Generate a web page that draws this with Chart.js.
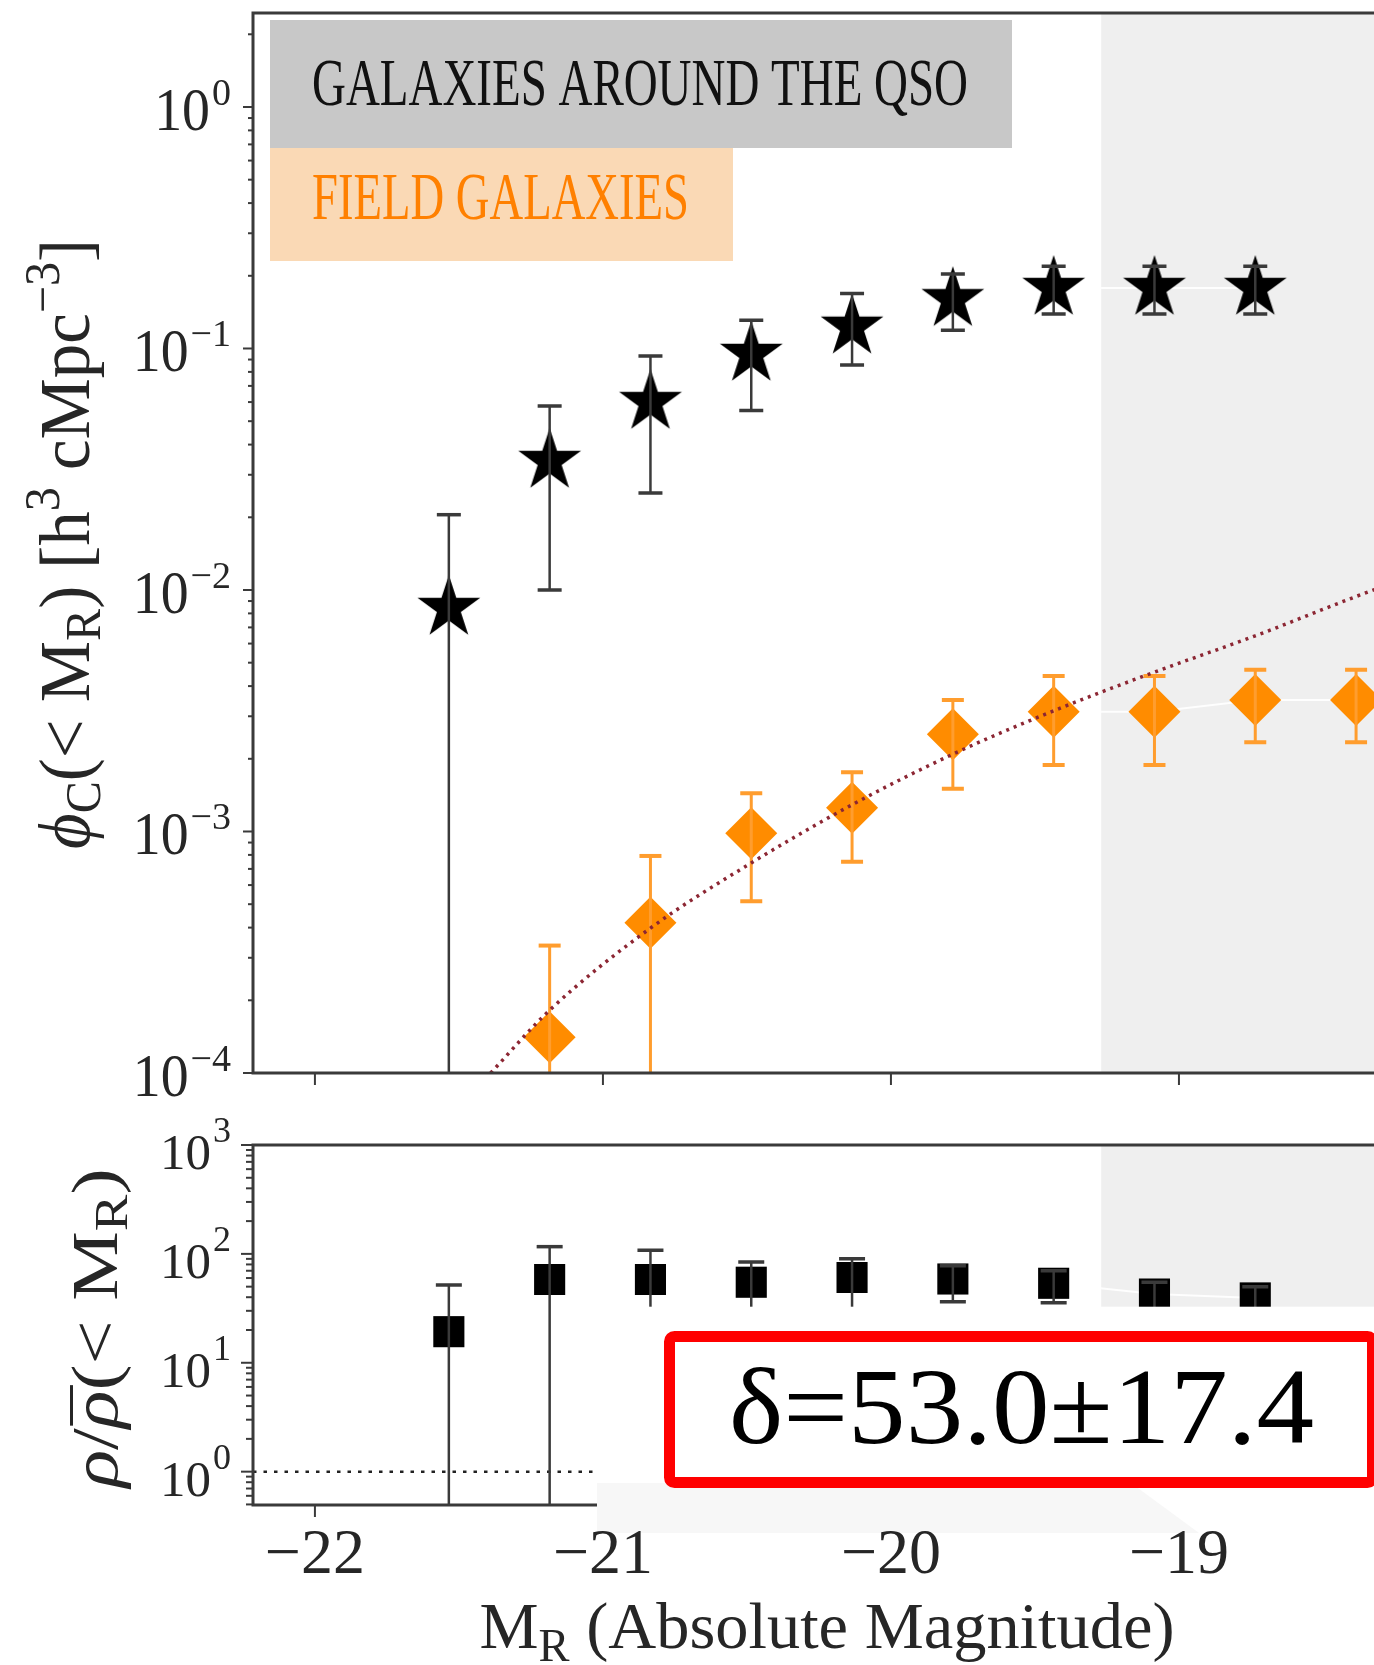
<!DOCTYPE html>
<html>
<head>
<meta charset="utf-8">
<script src="https://cdn.jsdelivr.net/npm/chart.js@4.4.1/dist/chart.umd.min.js"></script>
<style>
  html, body { margin: 0; padding: 0; background: #fff; overflow: hidden; }
  #wrap { position: relative; width: 1374px; height: 1665px; overflow: hidden; background: #fff; }
  #wrap canvas { position: absolute; left: 0; }
  #lf { top: 0; }
  #ratio { top: 1110px; }
</style>
</head>
<body>
<div id="wrap">
  <canvas id="lf" width="1402" height="1110"></canvas>
  <canvas id="ratio" width="1402" height="555"></canvas>
</div>
<script>
// magnitude bins (cumulative, < M_R)
const magQso   = [-21.535, -21.185, -20.835, -20.485, -20.135, -19.785, -19.435, -19.085, -18.735];
const magField = [-21.185, -20.835, -20.485, -20.135, -19.785, -19.435, -19.085, -18.735, -18.385];

// cumulative LF of the galaxies around the QSO
const phiQso   = [0.00842, 0.0342, 0.0600, 0.0949, 0.123, 0.160, 0.178, 0.178, 0.178];
const phiQsoLo = [0, 0.0100, 0.0252, 0.0553, 0.0855, 0.119, 0.139, 0.139, 0.139];
const phiQsoHi = [0.0205, 0.0578, 0.0931, 0.131, 0.169, 0.2035, 0.219, 0.219, 0.219];

// cumulative LF of the field
const phiField   = [1.405e-4, 4.19e-4, 9.83e-4, 1.255e-3, 2.53e-3, 3.13e-3, 3.13e-3, 3.50e-3, 3.50e-3];
const phiFieldLo = [0, 0, 5.14e-4, 7.5e-4, 1.504e-3, 1.886e-3, 1.886e-3, 2.34e-3, 2.34e-3];
const phiFieldHi = [3.37e-4, 7.92e-4, 1.44e-3, 1.76e-3, 3.50e-3, 4.40e-3, 4.40e-3, 4.67e-3, 4.67e-3];

// Schechter fit to the field (dotted)
const fitMag = [-21.39, -21.185, -20.835, -20.485, -20.135, -19.785, -19.435, -19.085, -18.735, -18.385, -18.229];
const fitPhi = [1.0e-4, 1.82e-4, 3.98e-4, 7.41e-4, 1.29e-3, 2.09e-3, 3.16e-3, 4.57e-3, 6.46e-3, 9.4e-3, 1.1e-2];

// overdensity rho / rho_bar
const ratio   = [19.3, 58.2, 58.2, 54.9, 60.7, 58.8, 53.7, 42.8, 39.4];
const ratioLo = [0, 0, 30, 30, 30, 36.4, 35.6, 30, 30];
const ratioHi = [51.8, 116.5, 108, 84.3, 90, 78, 70, 55, 50];
const unityLevel = 1;

const xTicks  = [-22, -21, -20, -19];
const xLabels = ['−22', '−21', '−20', '−19'];
const lfExps = [0, -1, -2, -3, -4];
const ratioExps = [0, 1, 2, 3];
const deltaText = 'δ=53.0±17.4';

const xMin = -22.215, xMax = -18.229;
const shadeFrom = -19.27;

const SERIF = '"Liberation Serif", "Times New Roman", "DejaVu Serif", serif';
const AXIS = '#3a3a3a';
const TEXT = '#262626';

const pts = (xs, ys) => xs.map((v, i) => ({ x: v, y: ys[i] }));

function makeStar(R, color) {
  const c = document.createElement('canvas');
  const s = Math.ceil(2 * R + 4);
  c.width = s; c.height = s;
  const g = c.getContext('2d');
  g.translate(s / 2, s / 2);
  g.beginPath();
  for (let k = 0; k < 10; k++) {
    const r = k % 2 === 0 ? R : R * 0.382;
    const a = -Math.PI / 2 + k * Math.PI / 5;
    g.lineTo(r * Math.cos(a), r * Math.sin(a));
  }
  g.closePath();
  g.fillStyle = color;
  g.fill();
  return c;
}

function fontFor(r, size) {
  return (r.it ? 'italic ' : '') + (size * (r.s || 1)).toFixed(1) + 'px ' + (r.fam || SERIF);
}

// text made of runs with sub/superscripts, optionally squeezed to a width
// a run flagged "over" is centred on the previous run without advancing
function drawRich(ctx, runs, x, y, size, o) {
  let nat = 0;
  runs.forEach(r => {
    if (r.over) return;
    ctx.font = fontFor(r, size);
    nat += ctx.measureText(r.t).width;
  });
  const sx = o.width ? o.width / nat : (o.sx || 1);
  const total = nat * sx;
  ctx.save();
  ctx.translate(x, y);
  if (o.rotate) ctx.rotate(o.rotate);
  let cx = o.align === 'center' ? -total / 2 : o.align === 'right' ? -total : 0;
  ctx.scale(sx, 1);
  cx /= sx;
  ctx.textAlign = 'left';
  ctx.textBaseline = 'alphabetic';
  ctx.fillStyle = o.color || TEXT;
  let prevX = cx, prevW = 0;
  runs.forEach(r => {
    ctx.font = fontFor(r, size);
    const w = ctx.measureText(r.t).width;
    if (r.over) {
      ctx.fillText(r.t, prevX + (prevW - w) / 2 + (r.shift || 0) * size, -(r.dy || 0) * size);
      return;
    }
    ctx.fillText(r.t, cx, -(r.dy || 0) * size);
    prevX = cx; prevW = w;
    cx += w;
  });
  ctx.restore();
}

function logTicks(scale) {
  const out = [];
  const lo = Math.floor(Math.log10(scale.min)), hi = Math.ceil(Math.log10(scale.max));
  for (let n = lo; n <= hi; n++) {
    for (let k = 1; k <= 9; k++) {
      const v = k * Math.pow(10, n);
      if (v >= scale.min * 0.999 && v <= scale.max * 1.001) out.push({ v, major: k === 1 });
    }
  }
  return out;
}

function drawPower(ctx, sup, right, py, lab) {
  ctx.save();
  ctx.fillStyle = TEXT;
  ctx.textBaseline = 'alphabetic';
  ctx.textAlign = 'left';
  ctx.font = lab.size + 'px ' + SERIF;
  const wBase = ctx.measureText('10').width * lab.sx;
  ctx.font = lab.supSize + 'px ' + SERIF;
  const wSup = ctx.measureText(sup).width;
  const x0 = right - wSup - wBase - 2;
  ctx.save();
  ctx.translate(x0, py + lab.base);
  ctx.scale(lab.sx, 1);
  ctx.font = lab.size + 'px ' + SERIF;
  ctx.fillText('10', 0, 0);
  ctx.restore();
  ctx.font = lab.supSize + 'px ' + SERIF;
  ctx.fillText(sup, x0 + wBase + 2, py + lab.supBase);
  ctx.restore();
}

function drawAxes(chart, exps, lab) {
  const { ctx, chartArea: a, scales: { x, y } } = chart;
  ctx.save();
  ctx.strokeStyle = AXIS;
  ctx.lineWidth = 3;
  ctx.beginPath();
  ctx.moveTo(a.right, a.top);
  ctx.lineTo(a.left, a.top);
  ctx.lineTo(a.left, a.bottom);
  ctx.lineTo(a.right, a.bottom);
  ctx.stroke();

  ctx.lineWidth = 2;
  logTicks(y).forEach(t => {
    const py = y.getPixelForValue(t.v);
    const len = t.major ? lab.major : lab.minor;
    ctx.beginPath();
    ctx.moveTo(a.left - len, py);
    ctx.lineTo(a.left, py);
    ctx.stroke();
  });
  xTicks.forEach(v => {
    const px = x.getPixelForValue(v);
    ctx.beginPath();
    ctx.moveTo(px, a.bottom);
    ctx.lineTo(px, a.bottom + 12);
    ctx.stroke();
  });
  exps.forEach(e => {
    const py = y.getPixelForValue(Math.pow(10, e));
    drawPower(ctx, e < 0 ? '−' + (-e) : String(e), 231, py, lab);
  });
  ctx.restore();
}

function drawErrorBars(chart, ds) {
  const { ctx, chartArea: a, scales: { x, y } } = chart;
  ctx.save();
  ctx.beginPath();
  ctx.rect(a.left, a.top, a.right - a.left, a.bottom - a.top);
  ctx.clip();
  ctx.strokeStyle = ds.errColor;
  ds.data.forEach((p, i) => {
    const px = x.getPixelForValue(p.x);
    const lo = ds.errLo[i] > 0 ? y.getPixelForValue(ds.errLo[i]) : a.bottom + 5;
    const hi = y.getPixelForValue(ds.errHi[i]);
    ctx.lineWidth = ds.errWidth;
    ctx.beginPath();
    ctx.moveTo(px, lo);
    ctx.lineTo(px, hi);
    ctx.stroke();
    ctx.lineWidth = ds.capWidth;
    ctx.beginPath();
    ctx.moveTo(px - ds.capHalf, hi);
    ctx.lineTo(px + ds.capHalf, hi);
    if (ds.errLo[i] > 0) {
      ctx.moveTo(px - ds.capHalf, lo);
      ctx.lineTo(px + ds.capHalf, lo);
    }
    ctx.stroke();
  });
  ctx.restore();
}

function panelPlugin(decorate) {
  return {
    id: 'panel',
    beforeDatasetsDraw(chart) {
      const { ctx, chartArea: a, scales: { x } } = chart;
      const x0 = x.getPixelForValue(shadeFrom);
      ctx.save();
      ctx.fillStyle = '#efefef';
      ctx.fillRect(x0, a.top, a.right - x0, a.bottom - a.top);
      ctx.restore();
    },
    afterDatasetDraw(chart, args) {
      const ds = chart.data.datasets[args.index];
      if (ds.errHi) drawErrorBars(chart, ds);
    },
    afterDraw(chart) { decorate(chart); }
  };
}

const baseOptions = (yMin, yMax, pad) => ({
  responsive: false,
  devicePixelRatio: 1,
  animation: false,
  events: [],
  layout: { padding: pad, autoPadding: false },
  plugins: { legend: { display: false }, tooltip: { enabled: false } },
  scales: {
    x: { type: 'linear', min: xMin, max: xMax, display: false },
    y: { type: 'logarithmic', min: yMin, max: yMax, display: false }
  }
});

const starImg = makeStar(33, '#000');

// upper panel: cumulative luminosity functions
new Chart(document.getElementById('lf'), {
  type: 'scatter',
  data: {
    datasets: [
      {
        label: 'fit',
        data: pts(fitMag, fitPhi),
        showLine: true,
        borderColor: '#8c2633',
        borderWidth: 3.5,
        borderDash: [3, 5],
        cubicInterpolationMode: 'monotone',
        pointRadius: 0,
        order: 0
      },
      {
        label: 'GALAXIES AROUND THE QSO',
        data: pts(magQso, phiQso),
        errLo: phiQsoLo, errHi: phiQsoHi,
        errColor: '#3a3a3a', errWidth: 2.5, capWidth: 3.5, capHalf: 12,
        showLine: true,
        borderColor: 'rgba(255,255,255,0.9)',
        borderWidth: 2,
        pointStyle: starImg,
        pointRadius: 33,
        order: 2
      },
      {
        label: 'FIELD GALAXIES',
        data: pts(magField, phiField),
        errLo: phiFieldLo, errHi: phiFieldHi,
        errColor: '#ff9d2e', errWidth: 3, capWidth: 4, capHalf: 11,
        showLine: true,
        borderColor: 'rgba(255,255,255,0.9)',
        borderWidth: 2,
        pointStyle: 'rectRot',
        pointRadius: 26,
        pointBackgroundColor: '#ff8c00',
        pointBorderWidth: 0,
        order: 1
      }
    ]
  },
  options: baseOptions(1e-4, 2.45, { left: 253, top: 13, right: 1, bottom: 37 }),
  plugins: [panelPlugin(chart => {
    const ctx = chart.ctx;
    drawAxes(chart, lfExps, { major: 10, minor: 5, size: 62, sx: 0.9, supSize: 38, base: 23, supBase: -2 });

    // legend boxes
    const qso = chart.data.datasets[1], field = chart.data.datasets[2];
    ctx.save();
    ctx.fillStyle = '#c8c8c8';
    ctx.fillRect(270, 20, 742, 128);
    ctx.fillStyle = '#fad9b5';
    ctx.fillRect(270, 148, 463, 113);
    ctx.restore();
    drawRich(ctx, [{ t: qso.label }], 312, 105, 67, { width: 656, color: '#111' });
    drawRich(ctx, [{ t: field.label }], 312, 219, 67, { width: 377, color: '#ff8000' });

    // y title
    drawRich(ctx, [
      { t: 'ϕ', it: true }, { t: 'C', s: 0.7, dy: -0.15 }, { t: '(< M' }, { t: 'R', s: 0.7, dy: -0.15 },
      { t: ') [h' }, { t: '3', s: 0.7, dy: 0.42 }, { t: ' cMpc' }, { t: '−3', s: 0.7, dy: 0.42 }, { t: ']' }
    ], 89, 544, 71, { width: 610, align: 'center', rotate: -Math.PI / 2 });
  })]
});

// lower panel: overdensity
new Chart(document.getElementById('ratio'), {
  type: 'scatter',
  data: {
    datasets: [
      {
        label: 'unity',
        data: [{ x: xMin, y: unityLevel }, { x: xMax, y: unityLevel }],
        showLine: true,
        borderColor: '#222',
        borderWidth: 2.5,
        borderDash: [3.5, 7],
        pointRadius: 0,
        order: 3
      },
      {
        label: 'overdensity',
        data: pts(magQso, ratio),
        errLo: ratioLo, errHi: ratioHi,
        errColor: '#3a3a3a', errWidth: 2.5, capWidth: 3.5, capHalf: 13,
        showLine: true,
        borderColor: 'rgba(255,255,255,0.9)',
        borderWidth: 2,
        pointStyle: 'rect',
        pointRadius: 22,
        pointBackgroundColor: '#000',
        pointBorderWidth: 0,
        order: 1
      }
    ]
  },
  options: baseOptions(0.494, 1000, { left: 253, top: 35, right: 1, bottom: 160 }),
  plugins: [panelPlugin(chart => {
    const ctx = chart.ctx;
    const { scales: { x } } = chart;
    drawAxes(chart, ratioExps, { major: 12, minor: 7, size: 51, sx: 1, supSize: 36, base: 24, supBase: -3 });

    // pasted-over area below the points
    ctx.save();
    ctx.fillStyle = '#fff';
    ctx.fillRect(597, 196.7, 820, 226.3);
    ctx.fillStyle = '#f7f7f7';
    ctx.beginPath();
    ctx.moveTo(597, 373);
    ctx.lineTo(1131, 373);
    ctx.lineTo(1199, 423);
    ctx.lineTo(597, 423);
    ctx.closePath();
    ctx.fill();

    // overdensity box
    ctx.fillStyle = '#fff';
    ctx.fillRect(669.5, 226.5, 703, 146);
    ctx.strokeStyle = '#ff0000';
    ctx.lineWidth = 11;
    ctx.beginPath();
    ctx.roundRect(669.5, 226.5, 703, 146, 5);
    ctx.stroke();
    ctx.restore();
    drawRich(ctx, [{ t: deltaText }], 729, 333, 107, { width: 585, color: '#000' });

    // x tick labels and title
    xTicks.forEach((v, i) => {
      drawRich(ctx, [{ t: xLabels[i] }], x.getPixelForValue(v), 463, 64, { align: 'center' });
    });
    drawRich(ctx, [{ t: 'M' }, { t: 'R', s: 0.7, dy: -0.2 }, { t: ' (Absolute Magnitude)' }],
      827, 538, 66, { width: 695, align: 'center' });

    // y title
    drawRich(ctx, [
      { t: 'ρ', it: true }, { t: '/' }, { t: 'ρ', it: true }, { t: '¯', over: true, dy: -0.05, shift: 0.05 },
      { t: '(< M' }, { t: 'R', s: 0.7, dy: -0.15 }, { t: ')' }
    ], 117, 218, 65, { width: 319, align: 'center', rotate: -Math.PI / 2 });
  })]
});
</script>
</body>
</html>
